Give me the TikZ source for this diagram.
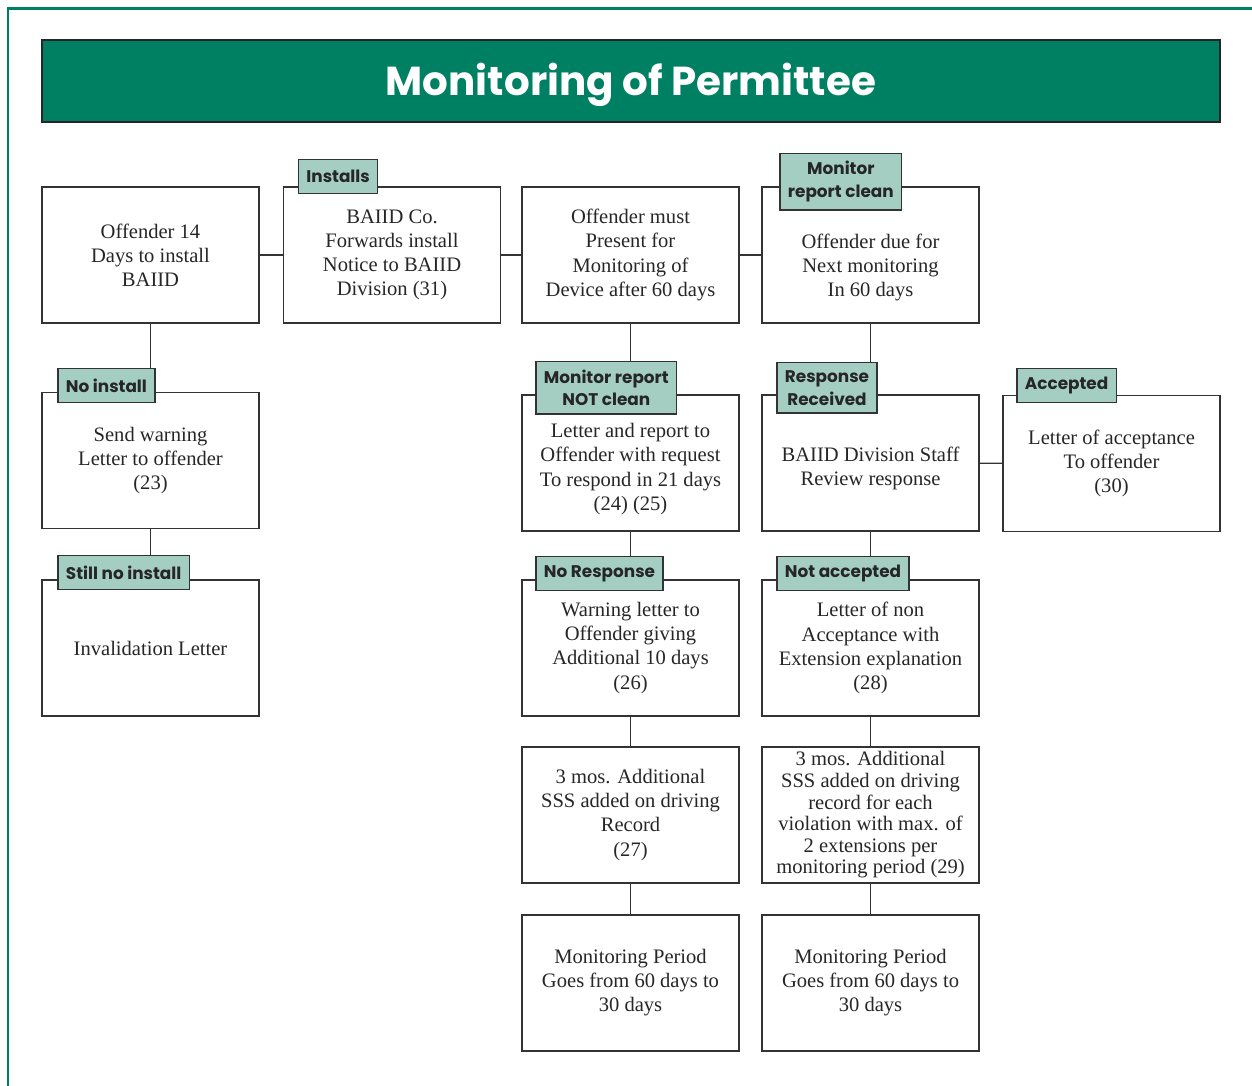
\documentclass[tikz,border=0pt]{standalone}
\usepackage{fontspec}
\setmainfont{Liberation Serif}
\newfontfamily\tagfont{Poppins}
\usepackage{tikz}

\definecolor{permgreen}{HTML}{008062}
\definecolor{taggreen}{HTML}{A4CEC2}
\definecolor{boxline}{HTML}{333333}

\tikzset{
  stepbox/.style={draw=boxline, line width=0.8pt, minimum width=4.34cm, minimum height=2.72cm,
    align=center, font=\fontsize{11.7}{13.7}\selectfont, text=black!85},
  tagbox/.style={draw=boxline, line width=0.8pt, fill=taggreen, align=center, anchor=west,
    inner xsep=4.5pt, inner ysep=4.5pt, minimum height=0.68cm,
    font=\tagfont\bfseries\fontsize{9.6}{13}\selectfont, text=black!85},
  link/.style={draw=boxline, line width=0.8pt}
}

\begin{document}
\begin{tikzpicture}
    \useasboundingbox (0,0) rectangle (25.04,21.72);
    %marco verde
    \draw[permgreen, line width=1.7pt] (0.16,0) -- (0.16,21.54) -- (25.04,21.54);

    %titulo
    \node[draw=black!85, line width=0.9pt, fill=permgreen, minimum width=23.56cm, minimum height=1.64cm,
      text=white, font=\tagfont\bfseries\fontsize{23}{26}\selectfont] (title) at (12.62,20.1)
      {\raisebox{-8.5pt}[0pt][0pt]{Monitoring of Permittee}};

    %fila 1
    \node[stepbox] (offender) at (3.01,16.62) {Offender 14\\Days to install\\BAIID};
    \node[stepbox] (forward) at (7.84,16.62) {BAIID Co.\\Forwards install\\Notice to BAIID\\Division (31)};
    \node[stepbox] (present) at (12.61,16.62) {Offender must\\Present for\\Monitoring of\\Device after 60 days};
    \node[stepbox] (nextmon) at (17.41,16.62) {\rule{0pt}{22pt}Offender due for\\Next monitoring\\In 60 days};

    %fila 2
    \node[stepbox] (warning) at (3.01,12.51) {Send warning\\Letter to offender\\(23)};
    \node[stepbox] (notclean) at (12.61,12.46) {\rule{0pt}{15pt}Letter and report to\\Offender with request\\To respond in 21 days\\(24) (25)};
    \node[stepbox] (review) at (17.41,12.46) {\rule{0pt}{14pt}BAIID Division Staff\\Review response};
    \node[stepbox] (accept) at (22.23,12.45) {Letter of acceptance\\To offender\\(30)};

    %fila 3
    \node[stepbox] (invalid) at (3.01,8.76) {Invalidation Letter};
    \node[stepbox] (tendays) at (12.61,8.76) {Warning letter to\\Offender giving\\Additional 10 days\\(26)};
    \node[stepbox] (nonaccept) at (17.41,8.76) {Letter of non\\Acceptance with\\Extension explanation\\(28)};

    %fila 4
    \node[stepbox] (sssleft) at (12.61,5.42) {3 mos. Additional\\SSS added on driving\\Record\\(27)};
    \node[stepbox, font=\fontsize{11.7}{12.3}\selectfont, inner ysep=1pt] (sssright) at (17.41,5.42)
      {3 mos. Additional\\SSS added on driving\\record for each\\violation with max. of\\2 extensions per\\monitoring period (29)};

    %fila 5
    \node[stepbox] (periodleft) at (12.61,2.06) {Monitoring Period\\Goes from 60 days to\\30 days};
    \node[stepbox] (periodright) at (17.41,2.06) {Monitoring Period\\Goes from 60 days to\\30 days};

    %conectores
    \draw[link] (offender) -- (forward);
    \draw[link] (forward) -- (present);
    \draw[link] (present) -- (nextmon);
    \draw[link] (review) -- (accept);
    \draw[link] (offender) -- (warning);
    \draw[link] (warning) -- (invalid);
    \draw[link] (present) -- (notclean);
    \draw[link] (notclean) -- (tendays);
    \draw[link] (tendays) -- (sssleft);
    \draw[link] (sssleft) -- (periodleft);
    \draw[link] (nextmon) -- (review);
    \draw[link] (review) -- (nonaccept);
    \draw[link] (nonaccept) -- (sssright);
    \draw[link] (sssright) -- (periodright);

    %etiquetas
    \node[tagbox] (installs) at ([shift={(0.3,0.2)}]forward.north west) {Installs};
    \node[tagbox] (clean) at ([shift={(0.36,0.09)}]nextmon.north west) {Monitor\\report clean};
    \node[tagbox] (noinstall) at ([shift={(0.32,0.12)}]warning.north west) {No install};
    \node[tagbox] (notcleantag) at ([shift={(0.28,0.13)}]notclean.north west) {Monitor report\\NOT clean};
    \node[tagbox] (received) at ([shift={(0.3,0.13)}]review.north west) {Response\\Received};
    \node[tagbox] (accepted) at ([shift={(0.28,0.18)}]accept.north west) {Accepted};
    \node[tagbox] (stillno) at ([shift={(0.32,0.13)}]invalid.north west) {Still no install};
    \node[tagbox] (noresp) at ([shift={(0.28,0.11)}]tendays.north west) {No Response};
    \node[tagbox] (notacc) at ([shift={(0.3,0.11)}]nonaccept.north west) {Not accepted};
\end{tikzpicture}
\end{document}
